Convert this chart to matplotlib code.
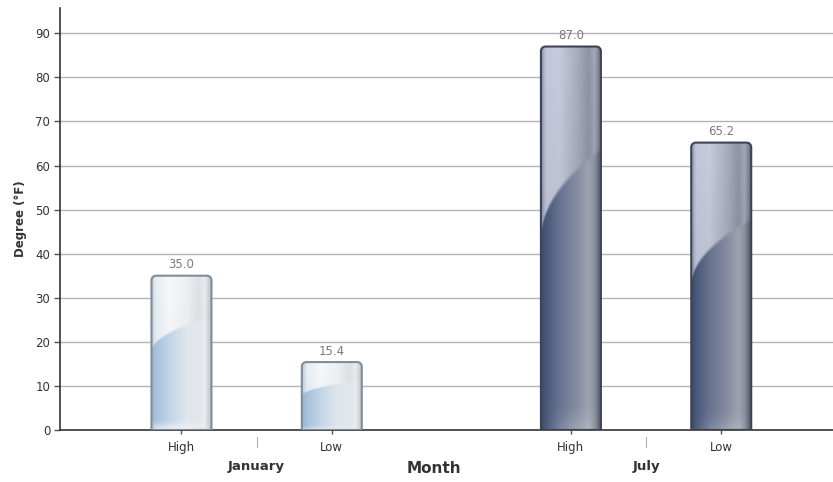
import numpy as np
import matplotlib
matplotlib.use("Agg")
import matplotlib.pyplot as plt
from matplotlib.path import Path
from matplotlib.patches import PathPatch
from matplotlib.transforms import blended_transform_factory
from matplotlib.colors import to_rgb

plt.rcParams['font.family'] = ['DejaVu Sans']

# ---- data ----
groups = ["January", "July"]
series = ["High", "Low"]
high_vals = [35.0, 87.0]
low_vals = [15.4, 65.2]
y_ticks = [0, 10, 20, 30, 40, 50, 60, 70, 80, 90]

fig = plt.figure(figsize=(8.33, 4.82), dpi=100)
ax = fig.add_axes([0.072, 0.108, 0.928, 0.875])

xmin, xmax = -0.505, 1.48
ymin, ymax = 0, 95.7
ax.set_xlim(xmin, xmax)
ax.set_ylim(ymin, ymax)

offset = 0.193
width = 0.154

ax_w_px = 833 * 0.928
ax_h_px = 482 * 0.875
rx = 4.5 * (xmax - xmin) / ax_w_px
ry = 4.5 * (ymax - ymin) / ax_h_px

U_STOPS = [0.0, 0.08, 0.3, 0.6, 0.8, 0.9, 1.0]
STYLE = {
    0: {
        "top": ["#c0ccd8", "#e8eef4", "#f6f8fa", "#eef0f2", "#dde1e5", "#eaecef", "#c0c6cc"],
        "bot": ["#98b4d0", "#a6c2dc", "#c2d4e6", "#dfe6ec", "#e2e6ea", "#e8ecef", "#c0c6cc"],
        "base": ["#c8d8e8", "#e6eef6", "#f2f6fa", "#f2f4f6", "#eef0f2", "#eef0f2", "#c8ccd0"],
        "vdark": 0.04,
        "edge": "#7f8d9b",
    },
    1: {
        "top": ["#8a90a8", "#c2c8dc", "#c6ccdc", "#a8aebe", "#8e94a6", "#a2a8b6", "#6a7080"],
        "bot": ["#3c4a68", "#485878", "#66728e", "#868ca0", "#9ea2b0", "#8a909c", "#525a6a"],
        "base": ["#3a4866", "#4c5c7c", "#7a86a0", "#a0a6b4", "#b0b4be", "#9098a4", "#525a6a"],
        "vdark": 0.10,
        "edge": "#3e4454",
    },
}


def profile(colors, u):
    rgb = np.array([to_rgb(c) for c in colors])
    return np.stack([np.interp(u, U_STOPS, rgb[:, k]) for k in range(3)], axis=-1)


def bar_image(kind, n_u=90, n_v=400):
    st = STYLE[kind]
    u = np.linspace(0, 1, n_u)
    v = np.linspace(0, 1, n_v)[:, None]
    top = profile(st["top"], u)[None, :, :]
    bot = profile(st["bot"], u)[None, :, :]
    base = profile(st["base"], u)[None, :, :]
    # slight vertical darkening of upper region toward the curve
    top = top * (1 - st["vdark"] * (1 - v[..., None]))
    curve = 0.5 + 0.23 * np.sqrt(u)[None, :]
    w = np.clip((curve - v) / 0.015 + 0.5, 0, 1)[..., None]  # 1 below curve
    img = top * (1 - w) + bot * w
    # lighter/bluer band at the base
    b = np.clip(1 - v / 0.07, 0, 1)[..., None] ** 1.5
    img = img * (1 - b) + base * b
    return np.clip(img, 0, 1)


def rounded_top_path(x0, x1, y0, y1):
    k = 0.5523
    verts = [
        (x0, y0), (x0, y1 - ry),
        (x0, y1 - ry + k * ry), (x0 + rx - k * rx, y1), (x0 + rx, y1),
        (x1 - rx, y1),
        (x1 - rx + k * rx, y1), (x1, y1 - ry + k * ry), (x1, y1 - ry),
        (x1, y0), (x0, y0),
    ]
    codes = [Path.MOVETO, Path.LINETO,
             Path.CURVE4, Path.CURVE4, Path.CURVE4,
             Path.LINETO,
             Path.CURVE4, Path.CURVE4, Path.CURVE4,
             Path.LINETO, Path.CLOSEPOLY]
    return Path(verts, codes)


ax.set_axisbelow(True)
for yv in y_ticks[1:]:
    ax.axhline(yv, color="#b4b4b4", lw=1.0, zorder=0)

tick_pos = []
tick_lab = []
for gi, g in enumerate(groups):
    for si, (s, vals) in enumerate(zip(series, [high_vals, low_vals])):
        val = vals[gi]
        xc = gi + (-offset if si == 0 else offset)
        x0, x1 = xc - width / 2, xc + width / 2
        path = rounded_top_path(x0, x1, 0, val)
        clip = PathPatch(path, facecolor="none", edgecolor="none", transform=ax.transData)
        ax.add_patch(clip)
        im = ax.imshow(bar_image(gi), extent=(x0, x1, 0, val), origin="lower",
                       aspect="auto", interpolation="bilinear", zorder=2)
        im.set_clip_path(clip)
        ax.add_patch(PathPatch(path, facecolor="none", edgecolor=STYLE[gi]["edge"],
                               lw=1.5, zorder=3))
        ax.text(xc, val + 1.0, f"{val:.1f}", ha="center", va="bottom",
                fontsize=8.5, color="#7a7a7a", zorder=4)
        tick_pos.append(xc)
        tick_lab.append(s)

ax.set_xlim(xmin, xmax)
ax.set_ylim(ymin, ymax)

ax.set_xticks(tick_pos)
ax.set_xticklabels(tick_lab, fontsize=8.5, color="#333333")
ax.tick_params(axis="x", length=3, width=1, color="#555555", pad=5)
ax.set_yticks(y_ticks)
ax.set_yticklabels([str(t) for t in y_ticks], fontsize=8.5, color="#333333")
ax.tick_params(axis="y", length=4, width=1, color="#555555", pad=3)

for sp in ["top", "right"]:
    ax.spines[sp].set_visible(False)
ax.spines["left"].set_color("#333333")
ax.spines["left"].set_linewidth(1.2)
ax.spines["bottom"].set_color("#333333")
ax.spines["bottom"].set_linewidth(1.2)

trans = blended_transform_factory(ax.transData, ax.transAxes)
for gi, g in enumerate(groups):
    ax.plot([gi, gi], [-0.017, -0.04], transform=trans, color="#b0b0b0",
            lw=0.8, clip_on=False)
    ax.text(gi, -0.086, g, transform=trans, ha="center", va="center",
            fontsize=9.5, fontweight="bold", color="#333333")

ax.text(0.455, -0.092, "Month", transform=trans, ha="center", va="center",
        fontsize=11, fontweight="bold", color="#333333")

ax.set_ylabel("Degree (°F)", fontsize=8.5, fontweight="bold", color="#333333",
              labelpad=6)

fig.savefig("out.png", dpi=100)
